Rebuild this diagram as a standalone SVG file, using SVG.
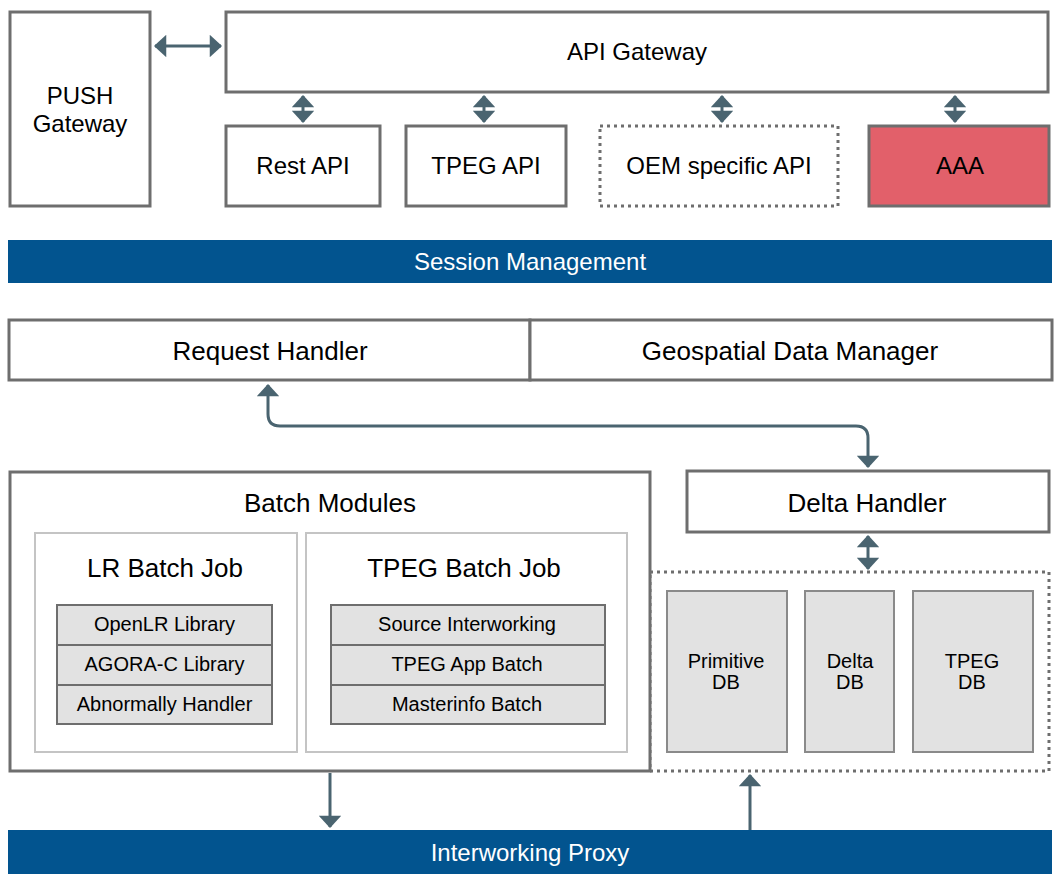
<svg xmlns="http://www.w3.org/2000/svg" width="1060" height="882" viewBox="0 0 1060 882">
<defs>
<style>
.box{fill:#fff;stroke:#6e6e6e;stroke-width:3}
.dot{fill:none;stroke:#6e6e6e;stroke-width:3;stroke-dasharray:3 4}
.inner{fill:#fff;stroke:#c4c4c4;stroke-width:2}
.row{fill:#e2e2e2;stroke:#6e6e6e;stroke-width:2}
.db{fill:#e2e2e2;stroke:#8a8a8a;stroke-width:2}
.bar{fill:#02548f}
.t{font-family:"Liberation Sans",Arial,sans-serif;fill:#000;text-anchor:middle}
.w{fill:#fff}
.c{fill:none;stroke:#4a6470;stroke-width:3}
</style>
<marker id="ah2" viewBox="0 0 12 22" refX="11" refY="11" markerWidth="4.5" markerHeight="7.5" orient="auto-start-reverse">
<path d="M0,0 L12,11 L0,22 z" fill="#4a6470"/>
</marker>
</defs>
<rect width="1060" height="882" fill="#fff"/>

<g id="push-gateway"><rect class="box" x="10" y="12" width="140" height="194"/><text class="t" x="80" y="104" font-size="24">PUSH</text><text class="t" x="80" y="132" font-size="24">Gateway</text></g>
<g id="api-gateway"><rect class="box" x="226" y="12" width="822" height="80"/><text class="t" x="637" y="60" font-size="24">API Gateway</text></g>
<g id="rest-api"><rect class="box" x="226" y="126" width="154" height="80"/><text class="t" x="303" y="174" font-size="24">Rest API</text></g>
<g id="tpeg-api"><rect class="box" x="406" y="126" width="160" height="80"/><text class="t" x="486" y="174" font-size="24">TPEG API</text></g>
<g id="oem-api"><rect class="dot" x="600" y="126" width="238" height="80"/><text class="t" x="719" y="174" font-size="24">OEM specific API</text></g>
<g id="aaa"><rect class="box" x="869" y="126" width="180" height="80" style="fill:#e2606a"/><text class="t" x="960" y="174" font-size="24">AAA</text></g>

<g id="session-management"><rect class="bar" x="8" y="240" width="1044" height="43"/><text class="t w" x="530" y="270" font-size="24">Session Management</text></g>

<g id="request-handler"><rect class="box" x="9" y="320" width="521" height="60"/><text class="t" x="270" y="360" font-size="26">Request Handler</text></g>
<g id="geospatial-data-manager"><rect class="box" x="530" y="320" width="522" height="60"/><text class="t" x="790" y="360" font-size="26">Geospatial Data Manager</text></g>

<g id="db-group"><rect class="dot" x="650" y="572" width="399" height="199"/></g>

<g id="batch-modules"><rect class="box" x="10" y="472" width="640" height="299"/><text class="t" x="330" y="512" font-size="26">Batch Modules</text></g>
<g id="lr-batch-job"><rect class="inner" x="35" y="533" width="262" height="219"/><text class="t" x="165" y="577" font-size="26">LR Batch Job</text>
<rect class="row" x="57" y="605" width="215" height="40"/><text class="t" x="164.5" y="631" font-size="20">OpenLR Library</text>
<rect class="row" x="57" y="645" width="215" height="40"/><text class="t" x="164.5" y="671" font-size="20">AGORA-C Library</text>
<rect class="row" x="57" y="685" width="215" height="39"/><text class="t" x="164.5" y="711" font-size="20">Abnormally Handler</text></g>
<g id="tpeg-batch-job"><rect class="inner" x="306" y="533" width="321" height="219"/><text class="t" x="464" y="577" font-size="26">TPEG Batch Job</text>
<rect class="row" x="331" y="605" width="274" height="40"/><text class="t" x="467" y="631" font-size="20">Source Interworking</text>
<rect class="row" x="331" y="645" width="274" height="40"/><text class="t" x="467" y="671" font-size="20">TPEG App Batch</text>
<rect class="row" x="331" y="685" width="274" height="39"/><text class="t" x="467" y="711" font-size="20">Masterinfo Batch</text></g>

<g id="delta-handler"><rect class="box" x="687" y="471" width="362" height="61"/><text class="t" x="867" y="512" font-size="26">Delta Handler</text></g>
<g id="primitive-db"><rect class="db" x="667" y="591" width="120" height="161"/><text class="t" x="726" y="668" font-size="20">Primitive</text><text class="t" x="726" y="689" font-size="20">DB</text></g>
<g id="delta-db"><rect class="db" x="805" y="591" width="89" height="161"/><text class="t" x="850" y="668" font-size="20">Delta</text><text class="t" x="850" y="689" font-size="20">DB</text></g>
<g id="tpeg-db"><rect class="db" x="913" y="591" width="120" height="161"/><text class="t" x="972" y="668" font-size="20">TPEG</text><text class="t" x="972" y="689" font-size="20">DB</text></g>

<g id="interworking-proxy"><rect class="bar" x="8" y="830" width="1044" height="44"/><text class="t w" x="530" y="861" font-size="24">Interworking Proxy</text></g>

<g id="connectors">
<line class="c" x1="155" y1="46" x2="221" y2="46" marker-start="url(#ah2)" marker-end="url(#ah2)"/>
<line class="c" x1="303" y1="96" x2="303" y2="122" marker-start="url(#ah2)" marker-end="url(#ah2)"/>
<line class="c" x1="484" y1="96" x2="484" y2="122" marker-start="url(#ah2)" marker-end="url(#ah2)"/>
<line class="c" x1="722" y1="96" x2="722" y2="122" marker-start="url(#ah2)" marker-end="url(#ah2)"/>
<line class="c" x1="955" y1="96" x2="955" y2="122" marker-start="url(#ah2)" marker-end="url(#ah2)"/>
<path class="c" d="M268,385 L268,414 Q268,426 280,426 L856,426 Q868,426 868,438 L868,467" marker-start="url(#ah2)" marker-end="url(#ah2)"/>
<line class="c" x1="868" y1="536" x2="868" y2="569" marker-start="url(#ah2)" marker-end="url(#ah2)"/>
<line class="c" x1="330" y1="773" x2="330" y2="827" marker-end="url(#ah2)"/>
<line class="c" x1="750" y1="830" x2="750" y2="775" marker-end="url(#ah2)"/>
</g>
</svg>
